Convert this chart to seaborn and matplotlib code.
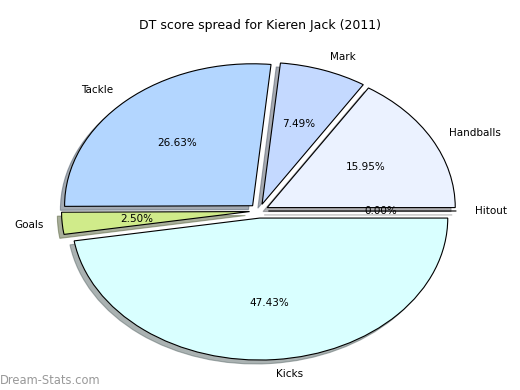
import matplotlib
matplotlib.use("Agg")
import matplotlib.pyplot as plt
import seaborn as sns

sns.set_style("white")
plt.rcParams['font.family'] = ['DejaVu Sans']
plt.rcParams['text.color'] = 'black'

categories = ["Hitout", "Handballs", "Mark", "Tackle", "Goals", "Kicks"]
values = [0.00, 15.95, 7.49, 26.63, 2.50, 47.43]
colors = ["#ffffff", "#ebf2ff", "#c4d9ff", "#b3d6ff", "#d0eb8a", "#d9ffff"]
title = "DT score spread for Kieren Jack (2011)"

palette = sns.color_palette(colors)

fig = plt.figure(figsize=(5.2, 3.9), dpi=100)
ax = fig.add_axes([0.046, 0.004, 0.904, 0.91])
wedges, texts, autotexts = ax.pie(
    values, labels=categories, colors=palette, explode=[0.05] * len(values),
    autopct="%1.2f%%", shadow={"ox": -0.016, "oy": -0.02, "shade": 0.6},
    startangle=0, counterclock=True,
    labeldistance=1.1, pctdistance=0.6,
    wedgeprops=dict(edgecolor="black", linewidth=0.8),
    textprops=dict(fontsize=7.5, color="black"),
)
ax.set_aspect("auto")
ax.set_xlim(-1.25, 1.25)
ax.set_ylim(-1.25, 1.25)
ax.axis("off")
fig.text(0.5, 0.935, title, ha="center", va="center", fontsize=9, color="black")
fig.text(0.0, 0.025, "Dream-Stats.com", ha="left", va="center", fontsize=8.3,
         color="#999999", fontweight="normal")
fig.savefig("out.png", dpi=100)
